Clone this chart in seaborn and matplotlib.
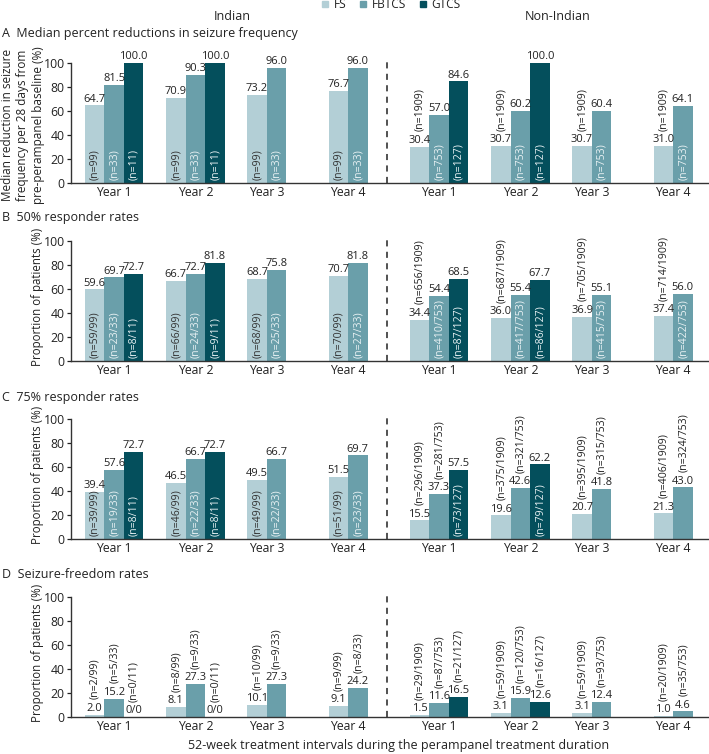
import matplotlib
matplotlib.use("Agg")
import matplotlib.pyplot as plt
import numpy as np
import pandas as pd
import seaborn as sns
from matplotlib.lines import Line2D

sns.set_theme(style="ticks")
plt.rcParams["font.family"] = ["Open Sans", "DejaVu Sans"]

# ---------------- data ----------------
categories = ["Indian Year 1", "Indian Year 2", "Indian Year 3", "Indian Year 4",
              "Non-Indian Year 1", "Non-Indian Year 2", "Non-Indian Year 3", "Non-Indian Year 4"]
year_labels = ["Year 1", "Year 2", "Year 3", "Year 4", "Year 1", "Year 2", "Year 3", "Year 4"]
seizure_types = ["FS", "FBTCS", "GTCS"]
group_titles = ["Indian", "Non-Indian"]
NO_DATA_LABEL = "0/0"

# A: median percent reduction
a_fs = [64.7, 70.9, 73.2, 76.7, 30.4, 30.7, 30.7, 31.0]
a_fbtcs = [81.5, 90.3, 96.0, 96.0, 57.0, 60.2, 60.4, 64.1]
a_gtcs = [100.0, 100.0, None, None, 84.6, 100.0, None, None]
a_fs_n = ["(n=99)", "(n=99)", "(n=99)", "(n=99)", "(n=1909)", "(n=1909)", "(n=1909)", "(n=1909)"]
a_fbtcs_n = ["(n=33)", "(n=33)", "(n=33)", "(n=33)", "(n=753)", "(n=753)", "(n=753)", "(n=753)"]
a_gtcs_n = ["(n=11)", "(n=11)", None, None, "(n=127)", "(n=127)", None, None]

# B: 50% responder rates
b_fs = [59.6, 66.7, 68.7, 70.7, 34.4, 36.0, 36.9, 37.4]
b_fbtcs = [69.7, 72.7, 75.8, 81.8, 54.4, 55.4, 55.1, 56.0]
b_gtcs = [72.7, 81.8, None, None, 68.5, 67.7, None, None]
b_fs_n = ["(n=59/99)", "(n=66/99)", "(n=68/99)", "(n=70/99)",
          "(n=656/1909)", "(n=687/1909)", "(n=705/1909)", "(n=714/1909)"]
b_fbtcs_n = ["(n=23/33)", "(n=24/33)", "(n=25/33)", "(n=27/33)",
             "(n=410/753)", "(n=417/753)", "(n=415/753)", "(n=422/753)"]
b_gtcs_n = ["(n=8/11)", "(n=9/11)", None, None, "(n=87/127)", "(n=86/127)", None, None]

# C: 75% responder rates
c_fs = [39.4, 46.5, 49.5, 51.5, 15.5, 19.6, 20.7, 21.3]
c_fbtcs = [57.6, 66.7, 66.7, 69.7, 37.3, 42.6, 41.8, 43.0]
c_gtcs = [72.7, 72.7, None, None, 57.5, 62.2, None, None]
c_fs_n = ["(n=39/99)", "(n=46/99)", "(n=49/99)", "(n=51/99)",
          "(n=296/1909)", "(n=375/1909)", "(n=395/1909)", "(n=406/1909)"]
c_fbtcs_n = ["(n=19/33)", "(n=22/33)", "(n=22/33)", "(n=23/33)",
             "(n=281/753)", "(n=321/753)", "(n=315/753)", "(n=324/753)"]
c_gtcs_n = ["(n=8/11)", "(n=8/11)", None, None, "(n=73/127)", "(n=79/127)", None, None]

# D: seizure-freedom rates
d_fs = [2.0, 8.1, 10.1, 9.1, 1.5, 3.1, 3.1, 1.0]
d_fbtcs = [15.2, 27.3, 27.3, 24.2, 11.6, 15.9, 12.4, 4.6]
d_gtcs = [None, None, None, None, 16.5, 12.6, None, None]
d_fs_n = ["(n=2/99)", "(n=8/99)", "(n=10/99)", "(n=9/99)",
          "(n=29/1909)", "(n=59/1909)", "(n=59/1909)", "(n=20/1909)"]
d_fbtcs_n = ["(n=5/33)", "(n=9/33)", "(n=9/33)", "(n=8/33)",
             "(n=87/753)", "(n=120/753)", "(n=93/753)", "(n=35/753)"]
d_gtcs_n = ["(n=0/11)", "(n=0/11)", None, None, "(n=21/127)", "(n=16/127)", None, None]

panels = [
    ("A  Median percent reductions in seizure frequency",
     "Median reduction in seizure\nfrequency per 28 days from\npre-perampanel baseline (%)",
     [a_fs, a_fbtcs, a_gtcs], [a_fs_n, a_fbtcs_n, a_gtcs_n]),
    ("B  50% responder rates", "Proportion of patients (%)",
     [b_fs, b_fbtcs, b_gtcs], [b_fs_n, b_fbtcs_n, b_gtcs_n]),
    ("C  75% responder rates", "Proportion of patients (%)",
     [c_fs, c_fbtcs, c_gtcs], [c_fs_n, c_fbtcs_n, c_gtcs_n]),
    ("D  Seizure-freedom rates", "Proportion of patients (%)",
     [d_fs, d_fbtcs, d_gtcs], [d_fs_n, d_fbtcs_n, d_gtcs_n]),
]
xlabel = "52-week treatment intervals during the perampanel treatment duration"

# ---------------- style ----------------
colors = ["#b3cfd6", "#6a9faa", "#044f5c"]
n_text_colors = ["#333333", "#e8f1f3", "#e8f1f3"]
text_color = "#222222"
W, H = 709, 754
fig = plt.figure(figsize=(W / 100, H / 100), dpi=100)
ax_left, ax_right = 71, 708
ax_tops = [63, 241, 419, 597]
ax_h = 120
title_y = [33, 217, 397, 574]
total_w = 0.72
bar_w = total_w / len(seizure_types)
fs_val = 8.0
fs_n = 7.6
fs_tick = 8.8
fs_text = 9.0
fs_ylab = 8.3

for p, (title, ylab, series, nlabels) in enumerate(panels):
    ax = fig.add_axes([ax_left / W, 1 - (ax_tops[p] + ax_h) / H,
                       (ax_right - ax_left) / W, ax_h / H])
    rows = []
    for j, t in enumerate(seizure_types):
        for i, c in enumerate(categories):
            v = series[j][i]
            if v is not None:
                rows.append({"category": c, "type": t, "value": v})
    df = pd.DataFrame(rows)
    sns.barplot(data=df, x="category", y="value", hue="type", order=categories,
                hue_order=seizure_types, palette=colors, width=total_w, saturation=1,
                errorbar=None, legend=False, ax=ax, linewidth=0)

    ax.set_ylim(0, 100)
    ax.set_xlim(-0.53, 7.31)
    ax.set_yticks([0, 20, 40, 60, 80, 100])
    ax.tick_params(axis="y", labelsize=fs_tick, length=3, width=0.9, colors=text_color, pad=1.5)
    ax.tick_params(axis="x", length=0, labelsize=fs_tick, colors=text_color, pad=2.5)
    sns.despine(ax=ax)
    for s in ["left", "bottom"]:
        ax.spines[s].set_color("#333333")
        ax.spines[s].set_linewidth(1.0)
    ax.set_xlabel("")
    ax.set_ylabel("")

    # x tick labels centred on the bars present
    tick_pos = []
    for i in range(len(categories)):
        present = [j for j in range(len(seizure_types))
                   if series[j][i] is not None or nlabels[j][i] is not None]
        offs = [(j - 1) * bar_w for j in present]
        tick_pos.append(i + (min(offs) + max(offs)) / 2)
    ax.set_xticks(tick_pos)
    ax.set_xticklabels(year_labels)

    # annotations
    for j in range(len(seizure_types)):
        for i in range(len(categories)):
            v = series[j][i]
            nl = nlabels[j][i]
            if v is None and nl is None:
                continue
            x = i + (j - 1) * bar_w
            y = 0 if v is None else v
            vtxt = NO_DATA_LABEL if v is None else f"{v:.1f}"
            ax.annotate(vtxt, (x, y), xytext=(0, 0.6), textcoords="offset points",
                        ha="center", va="bottom", fontsize=fs_val, color=text_color)
            if nl is None:
                continue
            inside = v is not None and v >= 4.3 * len(nl)
            if inside:
                ax.annotate(nl, (x, 0), xytext=(0.4, 2), textcoords="offset points",
                            ha="center", va="bottom", rotation=90, fontsize=fs_n,
                            color=n_text_colors[j])
            else:
                ax.annotate(nl, (x, y), xytext=(0.4, 11), textcoords="offset points",
                            ha="center", va="bottom", rotation=90, fontsize=fs_n,
                            color=text_color)

    # separator between Indian and Non-Indian
    ax.plot([3.36, 3.36], [0, 1.045], transform=ax.get_xaxis_transform(),
            color="#222222", lw=1.1, ls=(0, (4, 3.5)), clip_on=False)

    fig.text(2 / W, 1 - title_y[p] / H, title, ha="left", va="center",
             fontsize=fs_text, color=text_color)
    if p == 0:
        fig.text(23 / W, 1 - (ax_tops[p] + ax_h / 2 + 2) / H, ylab, rotation=90,
                 ha="center", va="center", fontsize=fs_ylab + 0.2, color=text_color,
                 linespacing=1.25, multialignment="center")
    else:
        fig.text(38 / W, 1 - (ax_tops[p] + 56) / H, ylab, rotation=90,
                 ha="center", va="center", fontsize=fs_ylab, color=text_color)

fig.text(232 / W, 1 - 17 / H, group_titles[0], ha="center", va="center",
         fontsize=fs_text, color=text_color)
fig.text(558 / W, 1 - 17 / H, group_titles[1], ha="center", va="center",
         fontsize=fs_text, color=text_color)
fig.text(399 / W, 1 - 746 / H, xlabel, ha="center", va="center",
         fontsize=fs_text, color=text_color)

handles = [Line2D([], [], marker="s", ls="", markersize=4.5, color=c) for c in colors]
fig.legend(handles, seizure_types, loc="center", bbox_to_anchor=(391 / W, 1 - 5 / H),
           ncol=3, frameon=False, fontsize=8.6, handlelength=0.6, handletextpad=0.4,
           columnspacing=1.1, borderpad=0, labelcolor=text_color)

fig.savefig("out.png", dpi=100)
